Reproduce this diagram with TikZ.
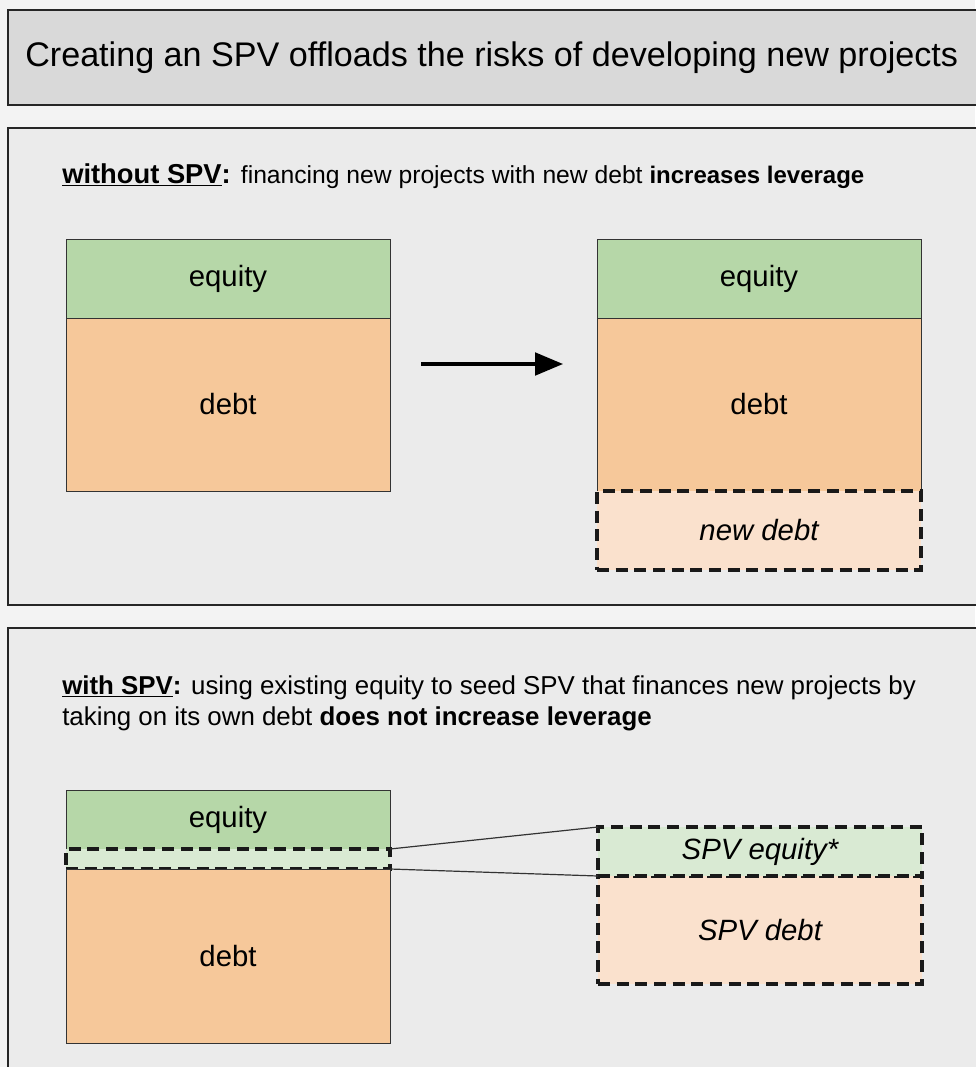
\documentclass[tikz,border=0pt]{standalone}
\usepackage{fontspec}
\setmainfont{Liberation Sans}
\usetikzlibrary{positioning, arrows.meta}
\definecolor{pagegray}{HTML}{F3F3F3}
\definecolor{panelgray}{HTML}{EBEBEB}
\definecolor{titlegray}{HTML}{D9D9D9}
\definecolor{eqgreen}{HTML}{B6D7A8}
\definecolor{eqlight}{HTML}{D9EAD3}
\definecolor{debtorange}{HTML}{F6C89A}
\definecolor{debtlight}{HTML}{FAE1CD}
\tikzstyle{panelbox}=[draw=black!85, line width=0.9pt]
\tikzstyle{stackbox}=[rectangle, draw=black!80, line width=0.7pt,
inner sep=0pt, outer sep=0pt, minimum width=243pt,
font=\fontsize{22}{24}\selectfont]
\tikzstyle{eqbox}=[stackbox, fill=eqgreen, minimum height=59.25pt]
\tikzstyle{debtbox}=[stackbox, fill=debtorange, minimum height=129.75pt]
\tikzstyle{dashbox}=[stackbox, draw=black!90, line width=2.7pt,
dash pattern=on 9pt off 5pt, font=\fontsize{22}{24}\selectfont\itshape]
\tikzstyle{headtext}=[anchor=base west, inner sep=0pt]
\tikzstyle{bigarrow}=[line width=2.3pt, -{Triangle[length=21pt, width=17pt]}]
\tikzstyle{thinline}=[draw=black!80, line width=0.9pt]

\begin{document}
\begin{tikzpicture}[x=0.75pt, y=-0.75pt]
    \useasboundingbox[fill=pagegray] (0,0) rectangle (975,1067);
    % title and the two panels
    \draw[panelbox, fill=titlegray] (8,10) rectangle (990,105);
    \node[anchor=west, inner sep=0pt, font=\fontsize{25.6}{28}\selectfont] (title)
        at (25,58) {Creating an SPV offloads the risks of developing new projects};
    \draw[panelbox, fill=panelgray] (8,128) rectangle (990,605);
    \draw[panelbox, fill=panelgray] (8,628) rectangle (990,1090);

    % without SPV
    \node[headtext] (head1) at (62,183)
        {\fontsize{20.5}{22}\selectfont\textbf{\underline{without SPV}:}
         \fontsize{18.5}{20}\selectfont financing new projects with new debt
         \fontsize{18}{20}\selectfont\textbf{increases leverage}};

    \node[eqbox, anchor=north west] (eq1) at (66,239) {equity};
    \node[debtbox, below=0pt of eq1] (debt1) {debt};

    \node[eqbox, anchor=north west] (eq2) at (597,239) {equity};
    \node[debtbox, below=0pt of eq2] (debt2) {debt};
    \node[dashbox, fill=debtlight, minimum height=59.25pt, below=0pt of debt2]
        (newdebt) {new debt};

    \coordinate (arrstart) at (421,364);
    \coordinate (arrend) at (563,364);
    \draw[bigarrow] (arrstart) -- (arrend);

    % with SPV
    \node[headtext] (head2a) at (62,694)
        {\fontsize{19.4}{22}\selectfont\textbf{\underline{with SPV}:}
         using existing equity to seed SPV that finances new projects by};
    \node[headtext] (head2b) at (62,725)
        {\fontsize{19.4}{22}\selectfont taking on its own debt
         \textbf{does not increase leverage}};

    \node[eqbox, anchor=north west, minimum height=44.25pt] (eq3) at (66,790) {equity};
    \node[dashbox, fill=eqlight, minimum height=15pt, below=0pt of eq3] (seed) {};
    \node[debtbox, minimum height=130.5pt, below=0pt of seed] (debt3) {debt};

    \node[dashbox, fill=debtlight, anchor=north west, minimum height=81pt]
        (spvdebt) at (598,876) {SPV debt};
    \node[dashbox, fill=eqlight, minimum height=36.75pt, above=0pt of spvdebt]
        (spveq) {SPV equity*};

    \draw[thinline] (seed.north east) -- (spveq.north west);
    \draw[thinline] (seed.south east) -- (spveq.south west);
\end{tikzpicture}
\end{document}
